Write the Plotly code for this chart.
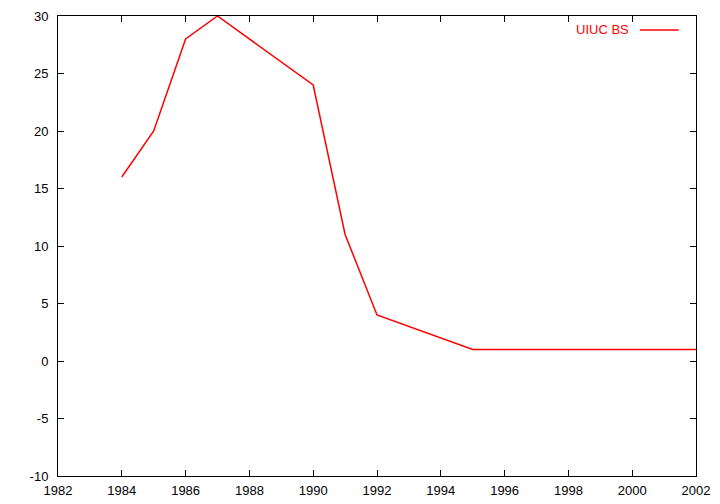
import plotly.graph_objects as go

years = [1984, 1985, 1986, 1987, 1990, 1991, 1992, 1995, 2002]
uiuc_bs = [16, 20, 28, 30, 24, 11, 4, 1, 1]
x_ticks = list(range(1982, 2003, 2))
y_ticks = list(range(-10, 31, 5))
y_tick_labels = [str(v) for v in y_ticks]

fig = go.Figure()
fig.add_trace(go.Scatter(x=years, y=uiuc_bs, mode="lines", name="UIUC BS",
                         line=dict(color="#ff0000", width=1.5), showlegend=False))

axis_common = dict(showgrid=False, zeroline=False, showline=True, linecolor="black",
                   linewidth=1, mirror="ticks", ticks="inside", ticklen=6,
                   tickcolor="black", tickfont=dict(family="Liberation Sans, Arial", size=13, color="black"))
fig.update_xaxes(range=[1982, 2002], tickvals=x_ticks, ticklabelstandoff=2, **axis_common)
fig.update_yaxes(range=[-10, 30], tickvals=y_ticks, ticktext=y_tick_labels, ticklabelstandoff=6, **axis_common)

fig.add_annotation(x=0.898, y=0.9696, xref="paper", yref="paper", text="UIUC BS",
                   showarrow=False, xanchor="right", yanchor="middle",
                   font=dict(family="Liberation Sans, Arial", size=13, color="#ff0000"))
fig.add_shape(type="line", xref="paper", yref="paper", x0=0.912, x1=0.973, y0=0.9696, y1=0.9696,
              line=dict(color="#ff0000", width=1.5))

fig.update_layout(width=720, height=504, margin=dict(l=50, r=32, t=8, b=36, autoexpand=False),
                  plot_bgcolor="white", paper_bgcolor="white")
fig.write_html("out.html")
